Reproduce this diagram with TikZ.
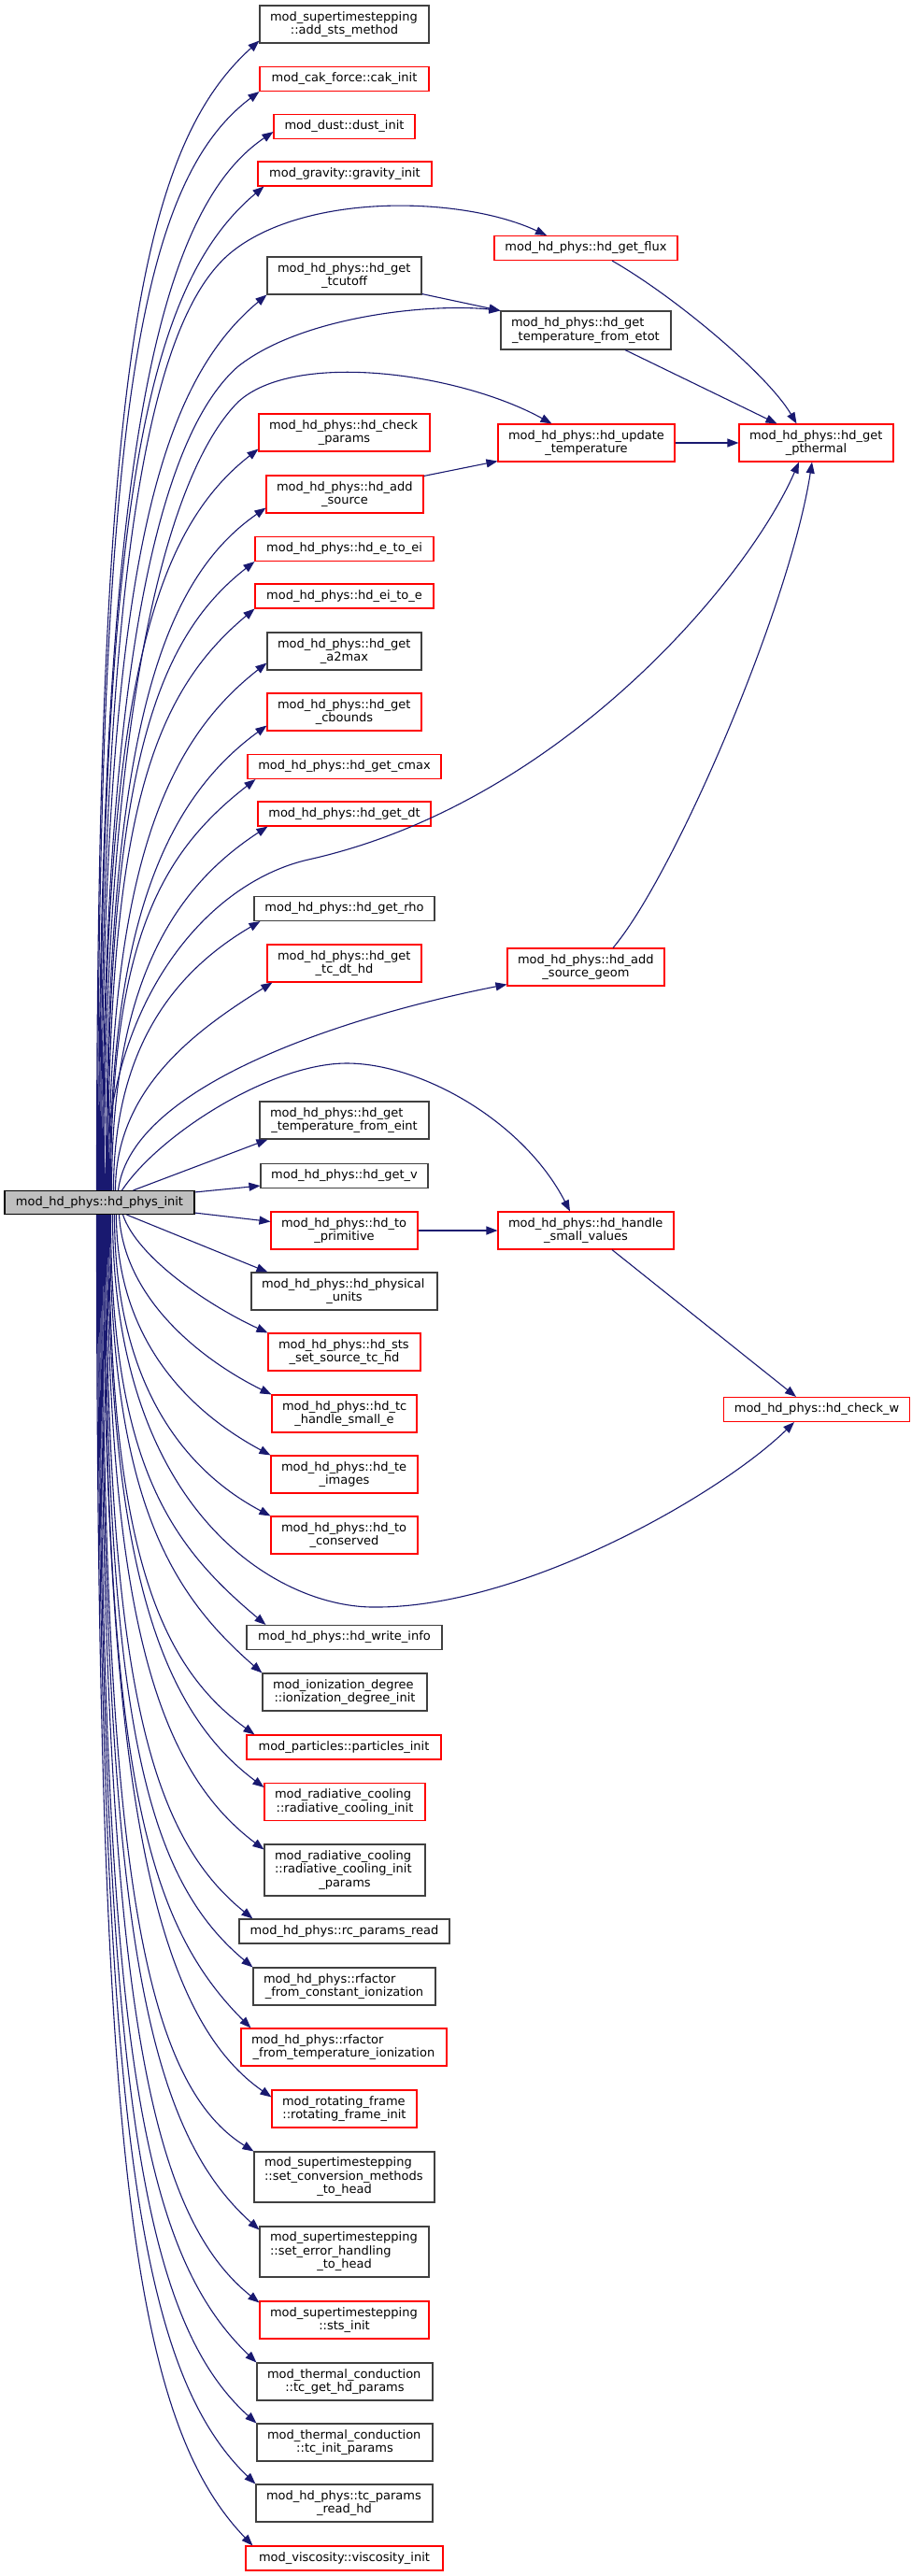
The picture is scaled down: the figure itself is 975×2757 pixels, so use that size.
\documentclass[tikz,border=0pt]{standalone}
\usepackage{fontspec}
\setmainfont{DejaVu Sans}
\usetikzlibrary{arrows.meta}
\definecolor{edgec}{HTML}{191970}
\definecolor{boxr}{HTML}{FF0000}
\definecolor{boxk}{HTML}{404040}
\definecolor{mainfill}{HTML}{BFBFBF}
\newcommand\cl[1]{\makebox[\linewidth]{#1}}
\newcommand\ml[1]{\mbox{#1}}
\begin{document}
\begin{tikzpicture}[x=1pt,y=-1pt,
  fn/.style={draw, line width=1.1pt, inner sep=0pt, fill=white, font=\fontsize{13}{14.5}\selectfont},
  rb/.style={fn, draw=boxr},
  kb/.style={fn, draw=boxk},
  two/.style={align=left, text width=#1},
  edge/.style={draw=edgec, line width=1.1pt, -{Triangle[length=12pt,width=9pt]}}]
\fill[white] (0,0) rectangle (975,2757);
\useasboundingbox (0,0) rectangle (975,2757);

% main
\node[fn, draw=black, fill=mainfill, minimum width=203pt, minimum height=25pt] (main) at (106.5,1287) {mod\_hd\_phys::hd\_phys\_init};

% column 2
\node[kb, two=159pt, minimum width=181pt, minimum height=40pt] (nstsadd) at (368.5,26) {\ml{mod\_supertimestepping}\\\cl{::add\_sts\_method}};
\node[rb, minimum width=181pt, minimum height=26pt] (ncak) at (368.5,84.5) {mod\_cak\_force::cak\_init};
\node[rb, minimum width=151pt, minimum height=26pt] (ndust) at (368.5,135.5) {mod\_dust::dust\_init};
\node[rb, minimum width=186pt, minimum height=26pt] (ngrav) at (369,186) {mod\_gravity::gravity\_init};
\node[kb, two=143pt, minimum width=165pt, minimum height=40pt] (ntcut) at (368.5,295) {\ml{mod\_hd\_phys::hd\_get}\\\cl{\_tcutoff}};
\node[rb, two=161pt, minimum width=183pt, minimum height=40pt] (nchk) at (368.5,463) {\ml{mod\_hd\_phys::hd\_check}\\\cl{\_params}};
\node[rb, two=146pt, minimum width=168pt, minimum height=40pt] (nadds) at (369,529) {\ml{mod\_hd\_phys::hd\_add}\\\cl{\_source}};
\node[rb, minimum width=191pt, minimum height=26pt] (ne2ei) at (368.5,587.5) {mod\_hd\_phys::hd\_e\_to\_ei};
\node[rb, minimum width=191pt, minimum height=26pt] (nei2e) at (368.5,638) {mod\_hd\_phys::hd\_ei\_to\_e};
\node[kb, two=143pt, minimum width=165pt, minimum height=40pt] (na2) at (368.5,697) {\ml{mod\_hd\_phys::hd\_get}\\\cl{\_a2max}};
\node[rb, two=143pt, minimum width=165pt, minimum height=40pt] (ncb) at (368.5,762) {\ml{mod\_hd\_phys::hd\_get}\\\cl{\_cbounds}};
\node[rb, minimum width=207pt, minimum height=26pt] (ncmax) at (368.5,820.5) {mod\_hd\_phys::hd\_get\_cmax};
\node[rb, minimum width=185pt, minimum height=26pt] (ndt) at (368.5,871) {mod\_hd\_phys::hd\_get\_dt};
\node[kb, minimum width=193pt, minimum height=26pt] (nrho) at (368.5,972.5) {mod\_hd\_phys::hd\_get\_rho};
\node[rb, two=143pt, minimum width=165pt, minimum height=40pt] (ntcdt) at (368.5,1031) {\ml{mod\_hd\_phys::hd\_get}\\\cl{\_tc\_dt\_hd}};
\node[kb, two=159pt, minimum width=181pt, minimum height=40pt] (neint) at (368.5,1199) {\ml{mod\_hd\_phys::hd\_get}\\\cl{\_temperature\_from\_eint}};
\node[kb, minimum width=179pt, minimum height=26pt] (nv) at (368.5,1258.5) {mod\_hd\_phys::hd\_get\_v};
\node[rb, two=135pt, minimum width=157pt, minimum height=40pt] (nprim) at (368.5,1317) {\ml{mod\_hd\_phys::hd\_to}\\\cl{\_primitive}};
\node[kb, two=177pt, minimum width=199pt, minimum height=40pt] (nunits) at (368.5,1382) {\ml{mod\_hd\_phys::hd\_physical}\\\cl{\_units}};
\node[rb, two=141pt, minimum width=163pt, minimum height=40pt] (nstsset) at (368.5,1447) {\ml{mod\_hd\_phys::hd\_sts}\\\cl{\_set\_source\_tc\_hd}};
\node[rb, two=133pt, minimum width=155pt, minimum height=40pt] (ntche) at (368.5,1513) {\ml{mod\_hd\_phys::hd\_tc}\\\cl{\_handle\_small\_e}};
\node[rb, two=135pt, minimum width=157pt, minimum height=40pt] (nte) at (368.5,1578) {\ml{mod\_hd\_phys::hd\_te}\\\cl{\_images}};
\node[rb, two=135pt, minimum width=157pt, minimum height=40pt] (ncons) at (368.5,1643) {\ml{mod\_hd\_phys::hd\_to}\\\cl{\_conserved}};
\node[kb, minimum width=209pt, minimum height=26pt] (nwinfo) at (368.5,1752.5) {mod\_hd\_phys::hd\_write\_info};
\node[kb, two=154pt, minimum width=176pt, minimum height=40pt] (nion) at (369,1811) {\ml{mod\_ionization\_degree}\\\cl{::ionization\_degree\_init}};
\node[rb, minimum width=208pt, minimum height=26pt] (npart) at (368,1870) {mod\_particles::particles\_init};
\node[rb, two=150pt, minimum width=172pt, minimum height=40pt] (nrci) at (369,1928.5) {\ml{mod\_radiative\_cooling}\\\cl{::radiative\_cooling\_init}};
\node[kb, two=150pt, minimum width=172pt, minimum height=55pt] (nrcp) at (369,2001.5) {\ml{mod\_radiative\_cooling}\\\ml{::radiative\_cooling\_init}\\\cl{\_params}};
\node[kb, minimum width=225pt, minimum height=26pt] (nrcr) at (368.5,2067) {mod\_hd\_phys::rc\_params\_read};
\node[kb, two=173pt, minimum width=195pt, minimum height=40pt] (nrfc) at (368.5,2126) {\ml{mod\_hd\_phys::rfactor}\\\cl{\_from\_constant\_ionization}};
\node[rb, two=198pt, minimum width=220pt, minimum height=40pt] (nrft) at (368,2191) {\ml{mod\_hd\_phys::rfactor}\\\cl{\_from\_temperature\_ionization}};
\node[rb, two=133pt, minimum width=155pt, minimum height=40pt] (nrot) at (368.5,2257) {\ml{mod\_rotating\_frame}\\\cl{::rotating\_frame\_init}};
\node[kb, two=171pt, minimum width=193pt, minimum height=54pt] (nconv) at (368.5,2330) {\ml{mod\_supertimestepping}\\\ml{::set\_conversion\_methods}\\\cl{\_to\_head}};
\node[kb, two=159pt, minimum width=181pt, minimum height=54pt] (nerr) at (368.5,2410) {\ml{mod\_supertimestepping}\\\ml{::set\_error\_handling}\\\cl{\_to\_head}};
\node[rb, two=159pt, minimum width=181pt, minimum height=40pt] (nstsi) at (368.5,2483) {\ml{mod\_supertimestepping}\\\cl{::sts\_init}};
\node[kb, two=166pt, minimum width=188pt, minimum height=40pt] (ntcg) at (369,2549) {\ml{mod\_thermal\_conduction}\\\cl{::tc\_get\_hd\_params}};
\node[kb, two=166pt, minimum width=188pt, minimum height=40pt] (ntci) at (369,2614) {\ml{mod\_thermal\_conduction}\\\cl{::tc\_init\_params}};
\node[kb, two=167pt, minimum width=189pt, minimum height=40pt] (ntcpr) at (368.5,2679) {\ml{mod\_hd\_phys::tc\_params}\\\cl{\_read\_hd}};
\node[rb, minimum width=211pt, minimum height=26pt] (nvisc) at (368.5,2738) {mod\_viscosity::viscosity\_init};

% column 3
\node[rb, minimum width=196pt, minimum height=26pt] (nflux) at (627,265.5) {mod\_hd\_phys::hd\_get\_flux};
\node[kb, two=160pt, minimum width=182pt, minimum height=41pt] (netot) at (627,353.5) {\ml{mod\_hd\_phys::hd\_get}\\\cl{\_temperature\_from\_etot}};
\node[rb, two=167pt, minimum width=189pt, minimum height=40pt] (nupd) at (627.5,474) {\ml{mod\_hd\_phys::hd\_update}\\\cl{\_temperature}};
\node[rb, two=146pt, minimum width=168pt, minimum height=40pt] (ngeom) at (627,1035) {\ml{mod\_hd\_phys::hd\_add}\\\cl{\_source\_geom}};
\node[rb, two=166pt, minimum width=188pt, minimum height=40pt] (nhsv) at (627,1317) {\ml{mod\_hd\_phys::hd\_handle}\\\cl{\_small\_values}};

% column 4
\node[rb, two=143pt, minimum width=165pt, minimum height=40pt] (npth) at (873.5,474) {\ml{mod\_hd\_phys::hd\_get}\\\cl{\_pthermal}};
\node[rb, minimum width=199pt, minimum height=26pt] (nchkw) at (874,1508.5) {mod\_hd\_phys::hd\_check\_w};

% ---- edges upward to column 2
\draw[edge] ([xshift=-3pt]main.north) .. controls +(0,-860) and +(-130,117) .. ([yshift=3pt]nstsadd.south west);
\draw[edge] ([xshift=-2pt]main.north) .. controls +(0,-820) and +(-130,98) .. (ncak.south west);
\draw[edge] ([xshift=-1pt]main.north) .. controls +(0,-780) and +(-125,85) .. ([yshift=8pt]ndust.south west);
\draw[edge] (main.north) .. controls +(0,-740) and +(-125,105) .. ([xshift=7pt]ngrav.south west);
\draw[edge] ([xshift=2pt]main.north) .. controls +(0,-650) and +(-120,100) .. (ntcut.south west);
\draw[edge] ([xshift=4pt]main.north) .. controls +(0,-530) and +(-115,90) .. ([yshift=3pt]nchk.south west);
\draw[edge] ([xshift=7pt]main.north) .. controls +(0,-480) and +(-115,80) .. ([yshift=6pt]nadds.south west);
\draw[edge] ([xshift=8pt]main.north) .. controls +(0,-440) and +(-110,86) .. (ne2ei.south west);
\draw[edge] ([xshift=9pt]main.north) .. controls +(0,-400) and +(-110,92) .. (nei2e.south west);
\draw[edge] ([xshift=10pt]main.north) .. controls +(0,-350) and +(-105,82) .. ([yshift=8pt]na2.south west);
\draw[edge] ([xshift=11pt]main.north) .. controls +(0,-300) and +(-100,73) .. ([yshift=6pt]ncb.south west);
\draw[edge] ([xshift=12pt]main.north) .. controls +(0,-270) and +(-100,78) .. ([xshift=9pt]ncmax.south west);
\draw[edge] ([xshift=13pt]main.north) .. controls +(0,-230) and +(-95,62) .. ([xshift=11pt]ndt.south west);
\draw[edge] ([xshift=15pt]main.north) .. controls +(0,-160) and +(-85,50) .. ([xshift=7pt]nrho.south west);
\draw[edge] ([xshift=17pt]main.north) .. controls +(0,-110) and +(-80,50) .. ([xshift=6pt]ntcdt.south west);
\draw[edge] ([xshift=36pt]main.north) -- ([xshift=9pt]neint.south west);
\draw[edge] ([yshift=-2pt]main.north east) -- ([yshift=3pt]nv.south west);
\draw[edge] ([yshift=2pt]main.south east) -- ([yshift=-11pt]nprim.north west);

% ---- edges downward to column 2
\draw[edge] ([xshift=29pt]main.south) -- ([xshift=18pt]nunits.north west);
\draw[edge] ([xshift=25pt]main.south) .. controls +(15,45) and +(-65,-30) .. (nstsset.north west);
\draw[edge] ([xshift=21pt]main.south) .. controls +(5,90) and +(-75,-37) .. (ntche.north west);
\draw[edge] ([xshift=18pt]main.south) .. controls +(0,140) and +(-80,-43) .. (nte.north west);
\draw[edge] ([xshift=16pt]main.south) .. controls +(0,190) and +(-85,-45) .. (ncons.north west);
\draw[edge] ([xshift=12pt]main.south) .. controls +(0,270) and +(-100,-84) .. ([xshift=21pt]nwinfo.north west);
\draw[edge] ([xshift=11pt]main.south) .. controls +(0,300) and +(-100,-87) .. (nion.north west);
\draw[edge] ([xshift=10pt]main.south) .. controls +(0,350) and +(-105,-76) .. ([xshift=9pt]npart.north west);
\draw[edge] ([xshift=9pt]main.south) .. controls +(0,390) and +(-105,-79) .. ([yshift=-5pt]nrci.north west);
\draw[edge] ([xshift=8pt]main.south) .. controls +(0,440) and +(-110,-83) .. ([yshift=-6pt]nrcp.north west);
\draw[edge] ([xshift=7pt]main.south) .. controls +(0,500) and +(-110,-89) .. ([xshift=15pt]nrcr.north west);
\draw[edge] ([xshift=6pt]main.south) .. controls +(0,540) and +(-115,-96) .. (nrfc.north west);
\draw[edge] ([xshift=5pt]main.south) .. controls +(0,590) and +(-115,-115) .. ([xshift=11pt]nrft.north west);
\draw[edge] ([xshift=4pt]main.south) .. controls +(0,640) and +(-120,-84) .. ([yshift=-8pt]nrot.north west);
\draw[edge] ([xshift=3pt]main.south) .. controls +(0,690) and +(-120,-75) .. (nconv.north west);
\draw[edge] ([xshift=2pt]main.south) .. controls +(0,750) and +(-125,-112) .. ([yshift=-4pt]nerr.north west);
\draw[edge] ([xshift=1pt]main.south) .. controls +(0,810) and +(-125,-100) .. ([yshift=-2pt]nstsi.north west);
\draw[edge] (main.south) .. controls +(0,860) and +(-130,-125) .. (ntcg.north west);
\draw[edge] ([xshift=-1pt]main.south) .. controls +(0,900) and +(-130,-117) .. (ntci.north west);
\draw[edge] ([xshift=-2pt]main.south) .. controls +(0,950) and +(-130,-125) .. (ntcpr.north west);
\draw[edge] ([xshift=-3pt]main.south) .. controls +(0,1000) and +(-130,-135) .. ([xshift=8pt]nvisc.north west);

% ---- long edges to columns 3 and 4
\draw[edge] ([xshift=1pt]main.north) .. controls +(0,-725) and +(-80,62) .. (250,268) .. controls +(80,-62) and +(-90,-42) .. ([xshift=-42pt]nflux.north);
\draw[edge] ([xshift=3pt]main.north) .. controls +(0,-600) and +(-75,65) .. (255,392) .. controls +(70,-55) and +(-70,-8) .. (netot.north west);
\draw[edge] ([xshift=5pt]main.north) .. controls +(0,-520) and +(-75,75) .. (255,430) .. controls +(60,-55) and +(-100,-55) .. ([xshift=-37pt]nupd.north);
\draw[edge] ([xshift=6pt]main.north) .. controls +(0,-200) and +(-110,25) .. (330,920) .. controls +(270,-60) and +(-55,126) .. ([xshift=-18.5pt]npth.south);
\draw[edge] ([xshift=20pt]main.north) .. controls +(14,-115) and +(-163,32) .. ([yshift=2pt]ngeom.south west);
\draw[edge] ([xshift=24pt]main.north) .. controls +(40,-60) and +(-81,0) .. (371,1138) .. controls +(79,0) and +(-50,-97) .. ([xshift=-17pt]nhsv.north);
\draw[edge] ([xshift=14pt]main.south) .. controls +(0,321) and +(-103,2) .. (403,1720) .. controls +(157,0) and +(-80,78) .. ([xshift=-24pt]nchkw.south);

% ---- other edges
\draw[edge] ([yshift=1pt]ntcut.south east) -- (netot.north west);
\draw[edge] ([yshift=-1pt]nadds.north east) -- ([yshift=1pt]nupd.south west);
\draw[edge] (nupd.east) -- (npth.west);
\draw[edge] ([xshift=42pt]netot.south) -- ([xshift=-42pt]npth.north);
\draw[edge] ([xshift=28pt]nflux.south) .. controls +(65,37) and +(-32,-54) .. ([xshift=-21pt]npth.north);
\draw[edge] ([xshift=29pt]ngeom.north) .. controls +(64,-75) and +(-24,156) .. ([xshift=-4.5pt]npth.south);
\draw[edge] (nprim.east) -- (nhsv.west);
\draw[edge] ([xshift=28pt]nhsv.south) -- ([xshift=-22pt]nchkw.north);
\end{tikzpicture}
\end{document}
